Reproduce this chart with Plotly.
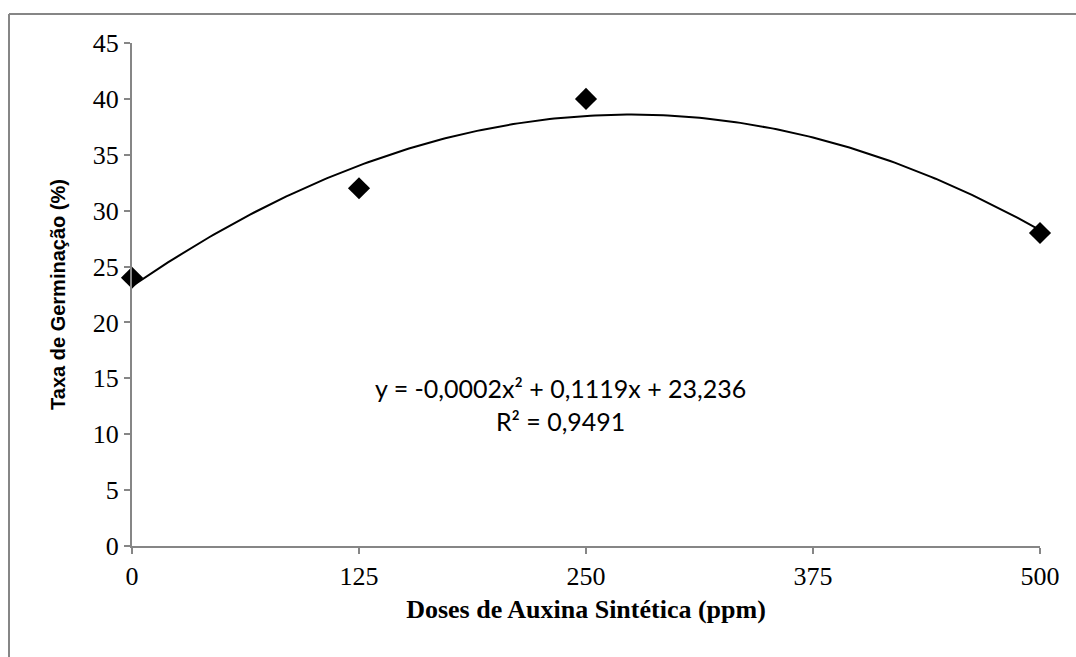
import numpy as np
import plotly.graph_objects as go

doses = [0, 125, 250, 500]
taxa = [24, 32, 40, 28]
x_ticks = [0, 125, 250, 375, 500]
y_ticks = [0, 5, 10, 15, 20, 25, 30, 35, 40, 45]
equation = "y = -0,0002x² + 0,1119x + 23,236<br>R² = 0,9491"

coef = np.polyfit(doses, taxa, 2)
xs = np.linspace(0, 500, 201)
ys = np.polyval(coef, xs)

W, H = 1076, 657
L, R, T, B = 132, 36, 43, 111
pw, ph = W - L - R, H - T - B

fig = go.Figure()
fig.add_trace(go.Scatter(x=xs, y=ys, mode="lines",
                         line=dict(color="black", width=2), hoverinfo="skip"))
fig.add_trace(go.Scatter(x=doses, y=taxa, mode="markers", cliponaxis=False,
                         marker=dict(symbol="diamond", size=17, color="black")))

axis_common = dict(showgrid=False, zeroline=False, showline=True,
                   linecolor="#868686", linewidth=2, ticks="outside",
                   ticklen=6, tickwidth=2, tickcolor="#868686",
                   tickfont=dict(family="Liberation Serif", size=26, color="black"))

fig.update_xaxes(range=[0, 500], tickvals=x_ticks, ticktext=[str(v) for v in x_ticks],
                 title=dict(text="<b>Doses de Auxina Sintética (ppm)</b>",
                            font=dict(family="Liberation Serif", size=26, color="black"),
                            standoff=10),
                 **axis_common)
fig.update_yaxes(range=[0, 45], tickvals=y_ticks, ticktext=[str(v) for v in y_ticks],
                 title=dict(text="<b>Taxa de Germinação (%)</b>",
                            font=dict(family="Liberation Sans", size=20, color="black"),
                            standoff=22),
                 **axis_common)

fig.add_annotation(x=236, y=12.7, xref="x", yref="y", text=equation, showarrow=False,
                   font=dict(family="Lato", size=25, color="black"),
                   align="center")

# outer chart border (top and left visible)
x_left = (9 - L) / pw
y_top = (H - B - 14) / ph
fig.add_shape(type="line", xref="paper", yref="paper", x0=x_left, x1=1.2,
              y0=y_top, y1=y_top, line=dict(color="#868686", width=2))
fig.add_shape(type="line", xref="paper", yref="paper", x0=x_left, x1=x_left,
              y0=y_top, y1=-0.3, line=dict(color="#868686", width=2))

fig.update_layout(width=W, height=H, margin=dict(l=L, r=R, t=T, b=B),
                  plot_bgcolor="white", paper_bgcolor="white", showlegend=False)

fig.write_html("out.html", config={"displayModeBar": False},
               post_script="document.body.style.margin='0';document.body.style.overflow='hidden';")
